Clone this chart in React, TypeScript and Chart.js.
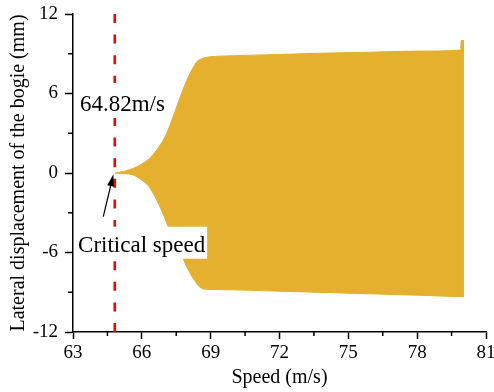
import React, { useEffect, useRef } from "react";
import { Chart, registerables } from "chart.js";

Chart.register(...registerables);

// ---- data ----
const speeds = [64.82, 65.2, 65.63, 66.0, 66.3, 66.65, 67.0, 67.3, 67.6, 67.96, 68.2, 68.4, 68.6, 68.83, 69.2, 70, 72, 74, 76, 78, 79.9, 79.92, 80.04];
const upperEnvelope = [0, 0.12, 0.35, 0.68, 1.05, 1.74, 2.7, 3.95, 5.4, 7.0, 7.85, 8.4, 8.62, 8.73, 8.8, 8.85, 8.95, 9.05, 9.12, 9.2, 9.28, 10, 10];
const lowerEnvelope = [0, -0.05, -0.15, -0.55, -1.0, -2.05, -3.4, -4.75, -5.7, -7.1, -7.85, -8.35, -8.7, -8.78, -8.8, -8.82, -8.92, -9.02, -9.12, -9.22, -9.32, -9.32, -9.33];

const criticalSpeed = 64.82;
const criticalLineY = [-12, 12];

const xMin = 63, xMax = 81, xStep = 3;
const yMin = -12, yMax = 12, yStep = 6;
const xMinorTicks = [64.5, 67.5, 70.5, 73.5, 76.5, 79.5];
const yMinorTicks = [-9, -3, 3, 9];

const speedLabel = "64.82m/s";
const speedLabelPos = [63.3, 4.68];
const criticalLabel = "Critical speed";
const criticalLabelPos = [63.22, -5.94];
const arrowTip = [64.76, -0.1];
const arrowTail = [64.32, -3.3];

const FONT = "'Liberation Serif', 'Times New Roman', Times, serif";
const GOLD = "#E6B02F";

export default function App() {
  const ref = useRef<HTMLCanvasElement | null>(null);

  useEffect(() => {
    document.body.style.margin = "0";
    const canvas = ref.current;
    if (!canvas) return;

    const boxedText = (ctx: any, text: string, px: number, py: number, top: number, bottom: number) => {
      const w = ctx.measureText(text).width;
      ctx.fillStyle = "#fff";
      ctx.fillRect(px - 2, py - top, w + 4, top + bottom);
      ctx.fillStyle = "#000";
      ctx.fillText(text, px, py);
    };

    const overlay = {
      id: "overlay",
      afterDatasetsDraw(chart: any) {
        const { ctx } = chart;
        const x = chart.scales.x;
        const y = chart.scales.y;
        ctx.save();
        ctx.font = `23px ${FONT}`;
        ctx.textBaseline = "alphabetic";
        ctx.textAlign = "left";
        boxedText(ctx, speedLabel, x.getPixelForValue(speedLabelPos[0]), y.getPixelForValue(speedLabelPos[1]), 28, 7);
        boxedText(ctx, criticalLabel, x.getPixelForValue(criticalLabelPos[0]), y.getPixelForValue(criticalLabelPos[1]), 25, 7);

        // arrow
        const tx = x.getPixelForValue(arrowTip[0]);
        const ty = y.getPixelForValue(arrowTip[1]);
        const sx = x.getPixelForValue(arrowTail[0]);
        const sy = y.getPixelForValue(arrowTail[1]);
        const ang = Math.atan2(ty - sy, tx - sx);
        const headLen = 12, headW = 3.5;
        const bx = tx - headLen * Math.cos(ang);
        const by = ty - headLen * Math.sin(ang);
        ctx.strokeStyle = "#000";
        ctx.fillStyle = "#000";
        ctx.lineWidth = 1.2;
        ctx.beginPath();
        ctx.moveTo(sx, sy);
        ctx.lineTo(bx, by);
        ctx.stroke();
        ctx.beginPath();
        ctx.moveTo(tx, ty);
        ctx.lineTo(bx + headW * Math.sin(ang), by - headW * Math.cos(ang));
        ctx.lineTo(bx - headW * Math.sin(ang), by + headW * Math.cos(ang));
        ctx.closePath();
        ctx.fill();
        ctx.restore();
      },
      afterDraw(chart: any) {
        const { ctx, chartArea } = chart;
        const x = chart.scales.x;
        const y = chart.scales.y;
        ctx.save();
        ctx.strokeStyle = "#000";
        ctx.lineWidth = 1.5;
        ctx.beginPath();
        xMinorTicks.forEach((v) => {
          const px = x.getPixelForValue(v);
          ctx.moveTo(px, chartArea.bottom);
          ctx.lineTo(px, chartArea.bottom + 4);
        });
        yMinorTicks.forEach((v) => {
          const py = y.getPixelForValue(v);
          ctx.moveTo(chartArea.left, py);
          ctx.lineTo(chartArea.left - 5, py);
        });
        ctx.stroke();
        ctx.restore();
      },
    };

    const upper = speeds.map((s, i) => ({ x: s, y: upperEnvelope[i] }));
    const lower = speeds.map((s, i) => ({ x: s, y: lowerEnvelope[i] }));
    const crit = criticalLineY.map((v) => ({ x: criticalSpeed, y: v }));

    const chart = new Chart(canvas, {
      type: "line",
      data: {
        datasets: [
          {
            data: upper,
            borderColor: GOLD,
            backgroundColor: GOLD,
            borderWidth: 1,
            pointRadius: 0,
            fill: "+1",
            cubicInterpolationMode: "monotone",
            order: 2,
          },
          {
            data: lower,
            borderColor: GOLD,
            backgroundColor: GOLD,
            borderWidth: 1,
            pointRadius: 0,
            fill: false,
            cubicInterpolationMode: "monotone",
            order: 2,
          },
          {
            data: crit,
            borderColor: "#FF0000",
            borderWidth: 2.6,
            borderDash: [9, 11.6],
            pointRadius: 0,
            fill: false,
            order: 1,
          },
        ],
      },
      options: {
        responsive: false,
        animation: false,
        devicePixelRatio: 1,
        layout: { padding: { top: 14, right: 8, bottom: 0, left: 0 } },
        plugins: { legend: { display: false }, tooltip: { enabled: false } },
        scales: {
          x: {
            type: "linear",
            min: xMin,
            max: xMax,
            ticks: { stepSize: xStep, color: "#000", font: { family: FONT, size: 19 }, padding: 3, maxRotation: 0 },
            grid: { display: true, drawOnChartArea: false, drawTicks: true, tickLength: 7, tickWidth: 1.5, tickColor: "#000" },
            border: { display: true, color: "#000", width: 1.5 },
            title: { display: true, text: "Speed (m/s)", color: "#000", font: { family: FONT, size: 20 }, padding: { top: 0, bottom: 2 } },
            afterFit(s: any) {
              s.height = 60;
              s.paddingLeft = 0;
              s.paddingRight = 0;
            },
          },
          y: {
            type: "linear",
            min: yMin,
            max: yMax,
            ticks: { stepSize: yStep, color: "#000", font: { family: FONT, size: 19 }, padding: 7 },
            grid: { display: true, drawOnChartArea: false, drawTicks: true, tickLength: 8, tickWidth: 1.5, tickColor: "#000" },
            border: { display: true, color: "#000", width: 1.5 },
            title: { display: true, text: "Lateral displacement of the bogie (mm)", color: "#000", font: { family: FONT, size: 20 }, padding: { top: 7, bottom: 0 } },
            afterFit(s: any) {
              s.width = 73;
              s.paddingTop = 0;
              s.paddingBottom = 0;
            },
          },
        },
      },
      plugins: [overlay],
    });

    return () => chart.destroy();
  }, []);

  return (
    <div style={{ width: 494, height: 392, background: "#fff" }}>
      <canvas ref={ref} width={494} height={392} style={{ display: "block" }} />
    </div>
  );
}
